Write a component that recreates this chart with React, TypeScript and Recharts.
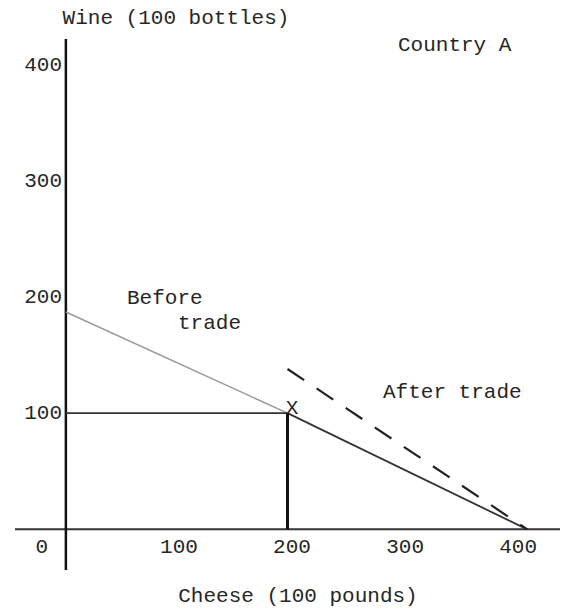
import { LineChart, Line, XAxis, YAxis, ReferenceLine, Customized } from 'recharts';

const xTicks = [0, 100, 200, 300, 400];
const yTicks = [100, 200, 300, 400];

const beforeTrade = [
  { x: 0, y: 187 },
  { x: 196, y: 100 },
];
const productionLine = [
  { x: 196, y: 100 },
  { x: 408, y: 0 },
];
const afterTrade = [
  { x: 196, y: 138 },
  { x: 408, y: 0 },
];
const wineAtX = [
  { x: 0, y: 100 },
  { x: 196, y: 100 },
];
const cheeseAtX = [
  { x: 196, y: 100 },
  { x: 196, y: 0 },
];

const font = '"Liberation Mono", monospace';
const ink = '#262626';

function XTick({ x, payload }: any) {
  const shift = payload.value === 0 ? -24 : 0;
  return (
    <text x={x + shift} y={553} textAnchor="middle" fontFamily={font} fontSize={21} fill={ink}>
      {payload.value}
    </text>
  );
}

function YTick({ y, payload }: any) {
  return (
    <text x={62} y={y + 6} textAnchor="end" fontFamily={font} fontSize={21} fill={ink}>
      {payload.value}
    </text>
  );
}

function Notes() {
  const t = { fontFamily: font, fontSize: 21, fill: ink };
  return (
    <g>
      <text x={176} y={24} textAnchor="middle" {...t}>Wine (100 bottles)</text>
      <text x={398} y={51} {...t}>Country A</text>
      <text x={127} y={304} {...t}>Before</text>
      <text x={178} y={329} {...t}>trade</text>
      <text x={383} y={398} {...t}>After trade</text>
      <text x={292} y={414} textAnchor="middle" {...t}>X</text>
      <text x={298} y={602} textAnchor="middle" {...t}>Cheese (100 pounds)</text>
    </g>
  );
}

export default function App() {
  return (
    <div style={{ position: 'absolute', left: 0, top: 0, background: '#fff' }}>
      <LineChart width={568} height={609} margin={{ top: 39, right: 8, bottom: 0, left: 0 }}>
        <XAxis
          dataKey="x"
          type="number"
          domain={[-45, 437]}
          ticks={xTicks}
          interval={0}
          height={39}
          axisLine={false}
          tickLine={false}
          tick={<XTick />}
          allowDataOverflow
        />
        <YAxis
          type="number"
          domain={[-35, 422]}
          ticks={yTicks}
          interval={0}
          width={15}
          axisLine={false}
          tickLine={false}
          tick={<YTick />}
          allowDataOverflow
        />
        <ReferenceLine y={0} stroke="#333" strokeWidth={2} />
        <ReferenceLine x={0} stroke="#111" strokeWidth={2.5} />
        <Line data={beforeTrade} dataKey="y" stroke="#999" strokeWidth={1.5} dot={false} isAnimationActive={false} />
        <Line data={productionLine} dataKey="y" stroke="#333" strokeWidth={1.8} dot={false} isAnimationActive={false} />
        <Line data={afterTrade} dataKey="y" stroke="#222" strokeWidth={2.2} strokeDasharray="20 15" dot={false} isAnimationActive={false} />
        <Line data={wineAtX} dataKey="y" stroke="#333" strokeWidth={1.6} dot={false} isAnimationActive={false} />
        <Line data={cheeseAtX} dataKey="y" stroke="#111" strokeWidth={3} dot={false} isAnimationActive={false} />
        <Customized component={Notes} />
      </LineChart>
    </div>
  );
}
